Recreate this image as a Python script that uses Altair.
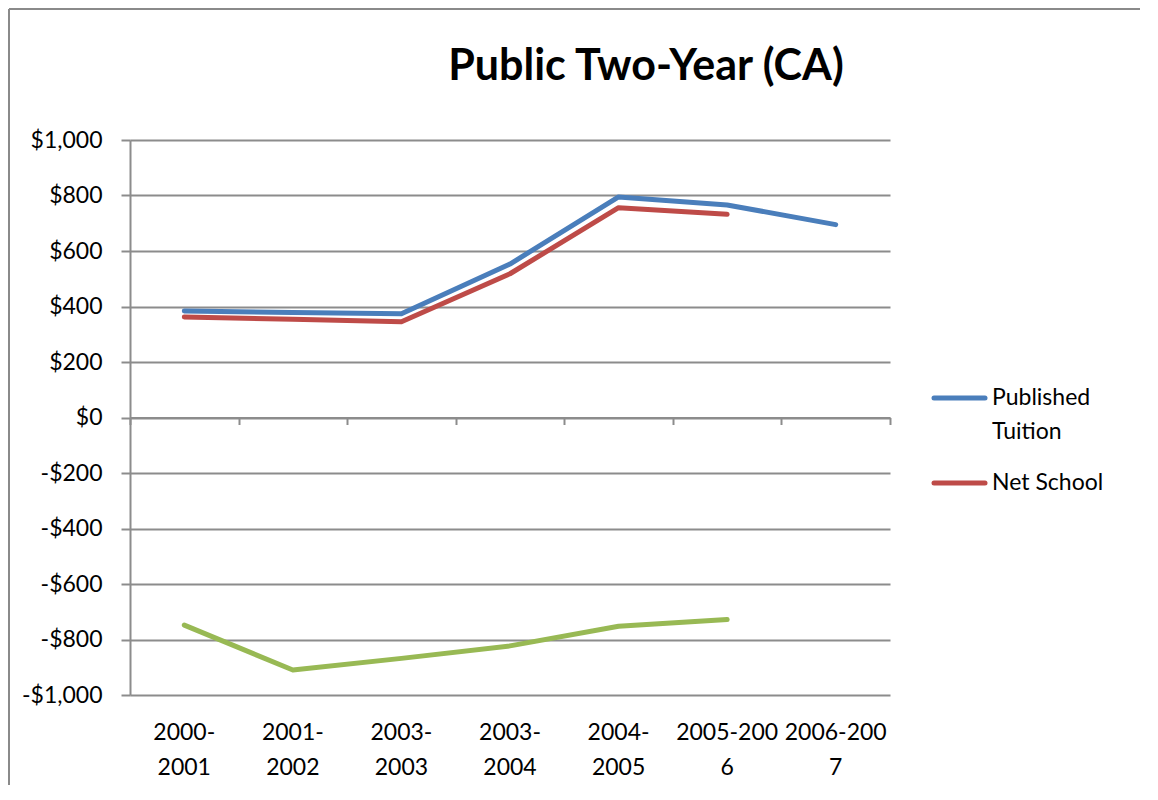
import altair as alt
import pandas as pd

# ---- data ----
periods = ["2000-2001", "2001-2002", "2003-2003", "2003-2004",
           "2004-2005", "2005-2006", "2006-2007"]
published_tuition = [384, 378, 374, 553, 795, 766, 695]
net_school = [362, 354, 345, 518, 756, 732, None]
third_series = [-748, -910, -868, -823, -752, -728, None]

series_names = ["Published Tuition", "Net School", "Net Price"]
series_colors = ["#4A7EBB", "#BE4B48", "#98B954"]
legend_names = ["Published Tuition", "Net School"]
y_ticks = [-1000, -800, -600, -400, -200, 0, 200, 400, 600, 800, 1000]
title_text = "Public Two-Year (CA)"

rows = []
for name, vals in zip(series_names, [published_tuition, net_school, third_series]):
    for p, v in zip(periods, vals):
        if v is not None:
            rows.append({"period": p, "series": name, "value": v})
df = pd.DataFrame(rows)

W, H = 760, 555
FONT = "Lato"
FS = 23
GRID = "#8c8c8c"

xscale = alt.Scale(type="band", paddingInner=0, paddingOuter=0, domain=periods)
yscale = alt.Scale(domain=[-1000, 1000], nice=False, zero=False)

label_expr = ("indexof(datum.label,'2005')==0 || indexof(datum.label,'2006')==0 ? "
              "[substring(datum.label,0,8), substring(datum.label,8)] : "
              "[substring(datum.label,0,5), substring(datum.label,5)]")

lines = alt.Chart(df).mark_line(strokeWidth=5, strokeCap="round", strokeJoin="round").encode(
    x=alt.X("period:N", sort=periods, scale=xscale, bandPosition=0.5,
            axis=alt.Axis(orient="bottom", title=None, domain=False, ticks=False, tickSize=0,
                          grid=False, labelAngle=0, labelOverlap=False,
                          labelExpr=label_expr, labelFont=FONT, labelFontSize=FS,
                          labelColor="#000000", labelPadding=26, labelLineHeight=35,
                          labelBaseline="top")),
    y=alt.Y("value:Q", scale=yscale,
            axis=alt.Axis(title=None, values=y_ticks, grid=True, gridColor=GRID, gridWidth=2,
                          domain=True, domainColor=GRID, domainWidth=2,
                          ticks=True, tickSize=9, tickColor=GRID, tickWidth=2,
                          labelFont=FONT, labelFontSize=FS, labelColor="#000000",
                          labelPadding=19,
                          labelExpr="(datum.value<0?'-':'') + '$' + format(abs(datum.value), ',')")),
    color=alt.Color("series:N", scale=alt.Scale(domain=series_names, range=series_colors),
                    legend=None),
    detail="series:N",
)

# zero-line axis with ticks on category boundaries
zero_axis = alt.Chart(pd.DataFrame({"period": periods})).mark_point(opacity=0).encode(
    x=alt.X("period:N", sort=periods, scale=xscale,
            axis=alt.Axis(orient="bottom", offset=-H / 2, title=None, labels=False, grid=False,
                          domain=True, domainColor=GRID, domainWidth=2,
                          ticks=True, tickBand="extent", tickSize=7, tickColor=GRID,
                          tickWidth=2)),
    y=alt.value(H / 2),
)

title = alt.Chart(pd.DataFrame({"t": [title_text]})).mark_text(
    font=FONT, fontSize=43, fontWeight="bold", align="center", baseline="alphabetic",
    color="#000000"
).encode(text="t:N", x=alt.value(516), y=alt.value(-60))

# legend (two visible entries)
legend_layers = []
ly = [258, 343]
for name, y0 in zip(legend_names, ly):
    col = series_colors[series_names.index(name)]
    legend_layers.append(
        alt.Chart(pd.DataFrame({"n": [name]})).mark_rule(
            color=col, strokeWidth=5, strokeCap="round"
        ).encode(x=alt.value(804), x2=alt.value(855), y=alt.value(y0))
    )
    parts = name.split(" ") if name == "Published Tuition" else [name]
    for i, part in enumerate(parts):
        legend_layers.append(
            alt.Chart(pd.DataFrame({"n": [part]})).mark_text(
                font=FONT, fontSize=FS, align="left", baseline="middle", color="#000000"
            ).encode(text="n:N", x=alt.value(862), y=alt.value(y0 + 34 * i))
        )

border_left = alt.Chart(pd.DataFrame({"a": [0]})).mark_rule(color="#8a8a8a", strokeWidth=2).encode(
    x=alt.value(-121), y=alt.value(-131), y2=alt.value(H + 90))
border_top = alt.Chart(pd.DataFrame({"a": [0]})).mark_rule(color="#8a8a8a", strokeWidth=2).encode(
    x=alt.value(-121), x2=alt.value(W + 250), y=alt.value(-131))

chart = alt.layer(lines, zero_axis, title, *legend_layers, border_left, border_top).resolve_axis(
    x="independent"
).properties(
    width=W, height=H,
    autosize=alt.AutoSizeParams(type="none"),
    padding={"left": 122, "top": 132, "right": 250, "bottom": 90},
    background="white",
).configure_view(stroke=None)

chart.save("out.html", embed_options={"renderer": "svg", "actions": False})
